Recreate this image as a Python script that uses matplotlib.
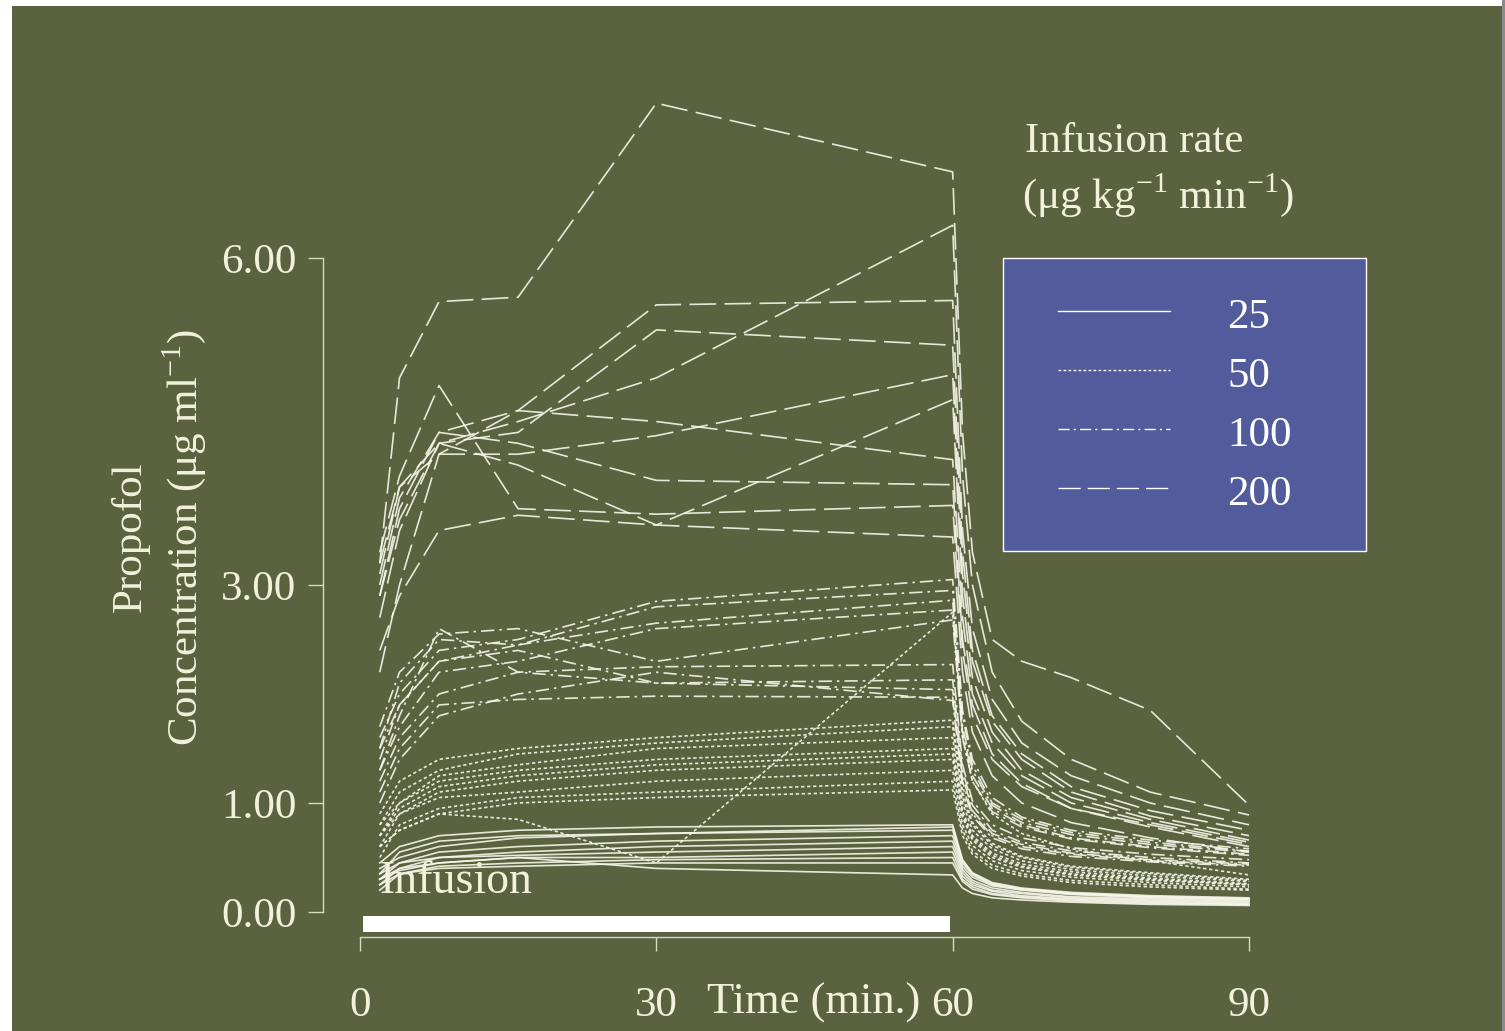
import matplotlib.pyplot as plt
from matplotlib.lines import Line2D
from matplotlib.patches import Rectangle

plt.rcParams["font.family"] = ["Liberation Serif", "DejaVu Serif"]
plt.rcParams["mathtext.fontset"] = "custom"
plt.rcParams["mathtext.rm"] = "Liberation Serif"

# sampling times (min)
times = [2, 4, 8, 16, 30, 60, 61, 62, 64, 67, 72, 80, 90]
infusion_start, infusion_end = 0, 60

# propofol concentration (ug/ml), one row per subject
conc_25 = [
    [0.45, 0.60, 0.70, 0.75, 0.78, 0.80, 0.48, 0.36, 0.27, 0.22, 0.18, 0.15, 0.13],
    [0.35, 0.55, 0.65, 0.70, 0.72, 0.78, 0.47, 0.35, 0.26, 0.21, 0.17, 0.14, 0.12],
    [0.40, 0.50, 0.60, 0.68, 0.72, 0.75, 0.45, 0.34, 0.25, 0.21, 0.17, 0.14, 0.12],
    [0.30, 0.45, 0.55, 0.60, 0.65, 0.70, 0.42, 0.32, 0.24, 0.20, 0.16, 0.13, 0.11],
    [0.35, 0.45, 0.50, 0.55, 0.60, 0.65, 0.39, 0.29, 0.22, 0.18, 0.14, 0.12, 0.10],
    [0.25, 0.40, 0.50, 0.52, 0.55, 0.60, 0.36, 0.27, 0.20, 0.17, 0.13, 0.11, 0.09],
    [0.30, 0.40, 0.45, 0.50, 0.50, 0.55, 0.33, 0.25, 0.19, 0.15, 0.12, 0.10, 0.08],
    [0.20, 0.35, 0.42, 0.45, 0.48, 0.50, 0.30, 0.23, 0.17, 0.14, 0.11, 0.09, 0.07],
    [0.25, 0.35, 0.40, 0.42, 0.45, 0.45, 0.28, 0.21, 0.16, 0.13, 0.10, 0.08, 0.07],
    [0.30, 0.38, 0.45, 0.50, 0.40, 0.34, 0.22, 0.17, 0.13, 0.11, 0.09, 0.07, 0.06],
]
conc_50 = [
    [0.90, 1.20, 1.40, 1.50, 1.60, 1.76, 1.10, 0.82, 0.63, 0.51, 0.42, 0.36, 0.30],
    [0.80, 1.10, 1.30, 1.45, 1.55, 1.70, 1.05, 0.80, 0.61, 0.50, 0.41, 0.35, 0.29],
    [0.70, 1.00, 1.25, 1.35, 1.50, 1.60, 1.00, 0.75, 0.58, 0.47, 0.39, 0.33, 0.28],
    [0.80, 1.00, 1.20, 1.30, 1.40, 1.50, 0.93, 0.70, 0.54, 0.44, 0.37, 0.31, 0.26],
    [0.60, 0.90, 1.10, 1.20, 1.30, 1.40, 0.87, 0.66, 0.50, 0.41, 0.34, 0.29, 0.25],
    [0.70, 0.90, 1.05, 1.10, 1.20, 1.30, 0.80, 0.61, 0.47, 0.38, 0.32, 0.27, 0.23],
    [0.50, 0.80, 0.95, 1.05, 1.10, 1.20, 0.75, 0.56, 0.43, 0.35, 0.29, 0.25, 0.21],
    [0.60, 0.75, 0.90, 1.00, 1.05, 1.12, 0.70, 0.53, 0.40, 0.33, 0.27, 0.23, 0.20],
    [0.60, 0.75, 0.90, 0.85, 0.45, 2.75, 1.60, 1.20, 0.90, 0.72, 0.58, 0.47, 0.34],
    [0.70, 0.95, 1.15, 1.25, 1.35, 1.45, 0.90, 0.68, 0.52, 0.42, 0.35, 0.30, 0.25],
]
conc_100 = [
    [1.60, 2.00, 2.40, 2.50, 2.85, 3.05, 1.85, 1.40, 1.05, 0.87, 0.75, 0.66, 0.58],
    [1.40, 1.90, 2.30, 2.45, 2.80, 2.95, 1.80, 1.35, 1.00, 0.85, 0.73, 0.64, 0.56],
    [1.50, 2.10, 2.50, 2.45, 2.65, 2.86, 1.70, 1.30, 0.98, 0.82, 0.71, 0.62, 0.55],
    [1.30, 1.70, 2.20, 2.30, 2.60, 2.77, 1.65, 1.25, 0.95, 0.80, 0.68, 0.60, 0.53],
    [1.70, 2.20, 2.55, 2.60, 2.30, 2.68, 1.60, 1.20, 0.92, 0.78, 0.67, 0.59, 0.52],
    [1.20, 1.60, 2.00, 2.20, 2.25, 2.27, 1.35, 1.02, 0.80, 0.68, 0.59, 0.53, 0.48],
    [1.50, 1.90, 2.30, 2.40, 2.10, 2.13, 1.30, 0.98, 0.75, 0.64, 0.56, 0.50, 0.45],
    [1.10, 1.50, 1.90, 1.95, 1.98, 1.97, 1.20, 0.90, 0.70, 0.60, 0.53, 0.47, 0.43],
    [1.30, 1.80, 2.60, 2.20, 2.10, 2.04, 1.25, 0.93, 0.72, 0.62, 0.54, 0.48, 0.44],
    [1.00, 1.40, 1.80, 2.00, 2.20, 1.94, 1.15, 0.88, 0.68, 0.58, 0.51, 0.46, 0.42],
]
conc_200 = [
    [3.20, 4.90, 5.60, 5.64, 7.42, 6.79, 4.40, 3.30, 2.50, 2.30, 2.15, 1.85, 0.98],
    [2.90, 3.60, 4.30, 4.50, 4.90, 6.30, 4.00, 3.00, 2.20, 1.75, 1.40, 1.10, 0.89],
    [3.00, 3.80, 4.40, 4.60, 5.57, 5.61, 3.50, 2.60, 1.95, 1.55, 1.25, 1.00, 0.80],
    [3.30, 4.00, 4.83, 3.70, 3.65, 3.73, 2.40, 1.80, 1.40, 1.15, 0.95, 0.80, 0.62],
    [2.70, 3.50, 4.30, 4.40, 5.34, 5.20, 3.30, 2.40, 1.80, 1.45, 1.15, 0.93, 0.75],
    [3.10, 3.90, 4.20, 4.20, 4.37, 4.93, 3.10, 2.30, 1.75, 1.40, 1.10, 0.88, 0.70],
    [2.90, 3.70, 4.40, 4.30, 3.96, 3.92, 2.50, 1.90, 1.45, 1.18, 0.95, 0.78, 0.60],
    [2.40, 2.90, 3.50, 3.64, 3.55, 3.44, 2.20, 1.65, 1.25, 1.00, 0.82, 0.68, 0.55],
    [3.20, 3.90, 4.30, 4.10, 3.55, 4.70, 2.90, 2.15, 1.65, 1.30, 1.05, 0.85, 0.66],
    [2.20, 3.00, 4.20, 4.60, 4.50, 4.15, 2.70, 2.00, 1.55, 1.25, 1.00, 0.82, 0.64],
]

rate_labels = ["25", "50", "100", "200"]
rate_styles = ["-", (0, (2, 1.6)), (0, (8, 3, 1.5, 3)), (0, (16, 5))]
groups = [conc_25, conc_50, conc_100, conc_200]
y_ticks = [0, 1, 3, 6]
x_ticks = [0, 30, 60, 90]

BG = "#5a6240"
INK = "#f2f1dc"
LINE = "#f7f7ea"
SPINE = "#d8dbc2"
BOX = "#525b9b"

W, H = 1505, 1031
fig = plt.figure(figsize=(W / 100, H / 100), dpi=100, facecolor="white")


def fx(px):
    return px / W


def fy(py):
    return 1 - py / H


# olive slide background with the thin white/grey margins
fig.patches.append(Rectangle((fx(12), 0), fx(1490), fy(6), transform=fig.transFigure,
                             facecolor=BG, edgecolor="none", zorder=-10))
fig.patches.append(Rectangle((fx(1502), 0), fx(3), 1, transform=fig.transFigure,
                             facecolor="#8a8a8a", edgecolor="none", zorder=-10))

ax = fig.add_axes([fx(323), fy(937), fx(1260 - 323), (937 - 90) / H])
ax.set_facecolor("none")
px_min = (1249 - 360) / 90
ax.set_xlim(-37 / px_min, 90 + 11 / px_min)
ax.set_ylim(-25 / 109, 822 / 109)

for subjects, style in zip(groups, rate_styles):
    for conc in subjects:
        ax.plot(times, conc, linestyle=style, color=LINE, lw=1.2, alpha=0.9)

# infusion bar
ax.add_patch(Rectangle((infusion_start + 0.3, -0.183), infusion_end - infusion_start - 0.6, 0.146,
                       facecolor="white", edgecolor="none"))
ax.text(2.0, 0.28, "Infusion", color=INK, fontsize=33, va="center", ha="left")

for side in ("top", "right"):
    ax.spines[side].set_visible(False)
for side in ("left", "bottom"):
    ax.spines[side].set_color(SPINE)
    ax.spines[side].set_linewidth(1.0)
ax.spines["left"].set_bounds(0, 6)
ax.spines["bottom"].set_bounds(0, 90)

ax.set_yticks(y_ticks)
ax.set_yticklabels([f"{v:.2f}" for v in y_ticks])
ax.set_xticks(x_ticks)
ax.set_xticklabels([str(v) for v in x_ticks])
ax.tick_params(axis="y", direction="out", length=11, width=1.0, color=SPINE,
               labelcolor=INK, labelsize=31, pad=8)
ax.tick_params(axis="x", direction="out", length=10, width=1.0, color=SPINE,
               labelcolor=INK, labelsize=31, pad=26)

fig.text(fx(814), fy(1003), "Time (min.)", color=INK, fontsize=32, ha="center", va="center")
fig.text(fx(130), fy(537), "Propofol", color=INK, fontsize=31, rotation=90,
         ha="center", va="center")
fig.text(fx(184), fy(537), r"Concentration (μg ml$^{\mathregular{-1}}$)", color=INK,
         fontsize=31, rotation=90, ha="center", va="center")

# legend
fig.text(fx(1025), fy(152), "Infusion rate", color=INK, fontsize=31, ha="left", va="baseline")
fig.text(fx(1022), fy(208), r"(μg kg$^{\mathregular{-1}}$ min$^{\mathregular{-1}}$)", color=INK,
         fontsize=31, ha="left", va="baseline")
fig.patches.append(Rectangle((fx(1003), fy(551)), fx(1366 - 1003), (551 - 258) / H,
                             transform=fig.transFigure, facecolor=BOX, edgecolor="white",
                             lw=1.0, zorder=5))
for i, (label, style) in enumerate(zip(rate_labels, rate_styles)):
    ky = 311 + i * 59
    fig.add_artist(Line2D([fx(1058), fx(1170)], [fy(ky), fy(ky)], transform=fig.transFigure,
                          linestyle=style, color="white", lw=1.0, zorder=6))
    fig.text(fx(1227), fy(ky + 7), label, color="white", fontsize=31, ha="left",
             va="center", zorder=6)

fig.savefig("out.png", dpi=100, facecolor="white")
